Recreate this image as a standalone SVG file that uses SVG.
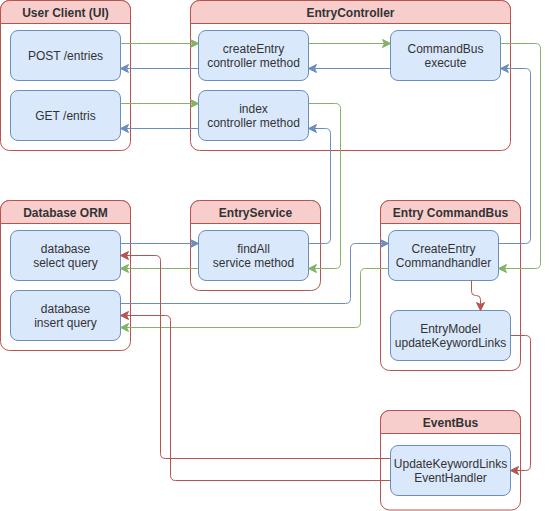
<svg xmlns="http://www.w3.org/2000/svg" width="549" height="511" viewBox="0 0 549 511">
<style>
.cont{fill:#ffffff;stroke:#b85450;stroke-width:1}
.head{fill:#f8cecc;stroke:#b85450;stroke-width:1}
.node{fill:#dae8fc;stroke:#6c8ebf;stroke-width:1}
.t{font-family:"Liberation Sans",Arial,sans-serif;font-size:12px;fill:#333333;text-anchor:middle}
.h{font-weight:bold}
.e{fill:none;stroke-width:1}
.g{stroke:#82b366}
.b{stroke:#6c8ebf}
.r{stroke:#b85450}
</style>
<defs>
<marker id="ag" markerUnits="userSpaceOnUse" markerWidth="10" markerHeight="10" refX="8" refY="4" orient="auto" overflow="visible"><path d="M0,0 L8,4 L0,8 L2,4 Z" fill="#82b366" stroke="#82b366" stroke-width="1"/></marker>
<marker id="ab" markerUnits="userSpaceOnUse" markerWidth="10" markerHeight="10" refX="8" refY="4" orient="auto" overflow="visible"><path d="M0,0 L8,4 L0,8 L2,4 Z" fill="#6c8ebf" stroke="#6c8ebf" stroke-width="1"/></marker>
<marker id="ar" markerUnits="userSpaceOnUse" markerWidth="10" markerHeight="10" refX="8" refY="4" orient="auto" overflow="visible"><path d="M0,0 L8,4 L0,8 L2,4 Z" fill="#b85450" stroke="#b85450" stroke-width="1"/></marker>
</defs>
<rect width="549" height="511" fill="#ffffff"/>

<g id="userClient">
<rect class="cont" x="0.5" y="0.5" width="130" height="150" rx="9"/>
<path class="head" d="M0.5,23.5 V9.5 a9,9 0 0 1 9,-9 H121.5 a9,9 0 0 1 9,9 V23.5 Z"/>
<text class="t h" x="65.5" y="16.5">User Client (UI)</text>
</g>
<g id="entryController">
<rect class="cont" x="190.5" y="0.5" width="320" height="150" rx="9"/>
<path class="head" d="M190.5,23.5 V9.5 a9,9 0 0 1 9,-9 H501.5 a9,9 0 0 1 9,9 V23.5 Z"/>
<text class="t h" x="350.5" y="16.5">EntryController</text>
</g>
<g id="databaseORM">
<rect class="cont" x="0.5" y="200.5" width="130" height="150" rx="9"/>
<path class="head" d="M0.5,223.5 V209.5 a9,9 0 0 1 9,-9 H121.5 a9,9 0 0 1 9,9 V223.5 Z"/>
<text class="t h" x="65.5" y="216.5">Database ORM</text>
</g>
<g id="entryService">
<rect class="cont" x="190.5" y="200.5" width="130" height="90" rx="9"/>
<path class="head" d="M190.5,223.5 V209.5 a9,9 0 0 1 9,-9 H311.5 a9,9 0 0 1 9,9 V223.5 Z"/>
<text class="t h" x="255.5" y="216.5">EntryService</text>
</g>
<g id="entryCommandBus">
<rect class="cont" x="380.5" y="200.5" width="140" height="170" rx="9"/>
<path class="head" d="M380.5,223.5 V209.5 a9,9 0 0 1 9,-9 H511.5 a9,9 0 0 1 9,9 V223.5 Z"/>
<text class="t h" x="450.5" y="216.5">Entry CommandBus</text>
</g>
<g id="eventBus">
<rect class="cont" x="380.5" y="410.5" width="140" height="99.5" rx="9"/>
<path class="head" d="M380.5,433.5 V419.5 a9,9 0 0 1 9,-9 H511.5 a9,9 0 0 1 9,9 V433.5 Z"/>
<text class="t h" x="450.5" y="426.5">EventBus</text>
</g>

<g id="postEntries">
<rect class="node" x="10.5" y="30.5" width="110" height="50" rx="7.5"/>
<text class="t" x="65.5" y="59.5">POST /entries</text>
</g>
<g id="getEntris">
<rect class="node" x="10.5" y="90.5" width="110" height="50" rx="7.5"/>
<text class="t" x="65.5" y="119.5">GET /entris</text>
</g>
<g id="createEntry">
<rect class="node" x="198.5" y="30.5" width="110" height="50" rx="7.5"/>
<text class="t" x="253.5" y="52.5">createEntry</text>
<text class="t" x="253.5" y="66.5">controller method</text>
</g>
<g id="commandBusExecute">
<rect class="node" x="390.5" y="30.5" width="110" height="50" rx="7.5"/>
<text class="t" x="445.5" y="52.5">CommandBus</text>
<text class="t" x="445.5" y="66.5">execute</text>
</g>
<g id="index">
<rect class="node" x="198.5" y="90.5" width="110" height="50" rx="7.5"/>
<text class="t" x="253.5" y="112.5">index</text>
<text class="t" x="253.5" y="126.5">controller method</text>
</g>
<g id="selectQuery">
<rect class="node" x="10.5" y="230.5" width="110" height="50" rx="7.5"/>
<text class="t" x="65.5" y="252.5">database</text>
<text class="t" x="65.5" y="266.5">select query</text>
</g>
<g id="insertQuery">
<rect class="node" x="10.5" y="290.5" width="110" height="50" rx="7.5"/>
<text class="t" x="65.5" y="312.5">database</text>
<text class="t" x="65.5" y="326.5">insert query</text>
</g>
<g id="findAll">
<rect class="node" x="198.5" y="230.5" width="110" height="50" rx="7.5"/>
<text class="t" x="253.5" y="252.5">findAll</text>
<text class="t" x="253.5" y="266.5">service method</text>
</g>
<g id="createEntryHandler">
<rect class="node" x="388.5" y="230.5" width="110" height="50" rx="7.5"/>
<text class="t" x="443.5" y="252.5">CreateEntry</text>
<text class="t" x="443.5" y="266.5">Commandhandler</text>
</g>
<g id="entryModel">
<rect class="node" x="390.5" y="310.5" width="120" height="50" rx="7.5"/>
<text class="t" x="450.5" y="332.5">EntryModel</text>
<text class="t" x="450.5" y="346.5">updateKeywordLinks</text>
</g>
<g id="eventHandler">
<rect class="node" x="390.5" y="445.5" width="120" height="50" rx="7.5"/>
<text class="t" x="450.5" y="467.5">UpdateKeywordLinks</text>
<text class="t" x="450.5" y="481.5">EventHandler</text>
</g>

<g id="connectors">
<path class="e g" marker-end="url(#ag)" d="M120.5,43.5 H198.5"/>
<path class="e b" marker-end="url(#ab)" d="M198.5,68.5 H120.5"/>
<path class="e g" marker-end="url(#ag)" d="M308.5,43.5 H390.5"/>
<path class="e b" marker-end="url(#ab)" d="M390.5,68.5 H308.5"/>
<path class="e g" marker-end="url(#ag)" d="M120.5,103.5 H198.5"/>
<path class="e b" marker-end="url(#ab)" d="M198.5,128.5 H120.5"/>
<path class="e g" marker-end="url(#ag)" d="M308.5,103.5 H335.5 Q340.5,103.5 340.5,108.5 V263.5 Q340.5,268.5 335.5,268.5 H308.5"/>
<path class="e b" marker-end="url(#ab)" d="M308.5,243.5 H325.5 Q330.5,243.5 330.5,238.5 V133.5 Q330.5,128.5 325.5,128.5 H308.5"/>
<path class="e b" marker-end="url(#ab)" d="M120.5,243.5 H198.5"/>
<path class="e g" marker-end="url(#ag)" d="M198.5,268.5 H120.5"/>
<path class="e g" marker-end="url(#ag)" d="M500.5,43.5 H535.5 Q540.5,43.5 540.5,48.5 V263.5 Q540.5,268.5 535.5,268.5 H498.5"/>
<path class="e b" marker-end="url(#ab)" d="M498.5,243.5 H525.5 Q530.5,243.5 530.5,238.5 V73.5 Q530.5,68.5 525.5,68.5 H500.5"/>
<path class="e g" marker-end="url(#ag)" d="M388.5,268.5 H365.5 Q360.5,268.5 360.5,273.5 V322.5 Q360.5,327.5 355.5,327.5 H120.5"/>
<path class="e b" marker-end="url(#ab)" d="M120.5,303.5 H345.5 Q350.5,303.5 350.5,298.5 V248.5 Q350.5,243.5 355.5,243.5 H388.5"/>
<path class="e r" marker-end="url(#ar)" d="M471.5,280.5 V291.5 Q471.5,295.5 475.5,295.5 H476.5 Q480.5,295.5 480.5,299.5 V310.5"/>
<path class="e r" marker-end="url(#ar)" d="M510.5,335.5 H525.5 Q530.5,335.5 530.5,340.5 V465.5 Q530.5,470.5 525.5,470.5 H510.5"/>
<path class="e r" marker-end="url(#ar)" d="M390.5,458.5 H165.5 Q160.5,458.5 160.5,453.5 V260.5 Q160.5,255.5 155.5,255.5 H120.5"/>
<path class="e r" marker-end="url(#ar)" d="M390.5,480.5 H175.5 Q170.5,480.5 170.5,475.5 V320.5 Q170.5,315.5 165.5,315.5 H120.5"/>
</g>
</svg>
